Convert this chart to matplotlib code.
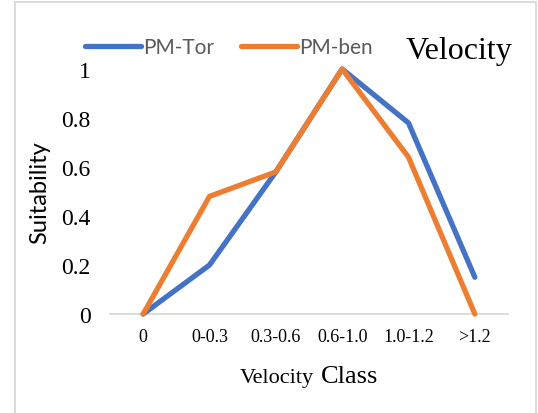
import matplotlib.pyplot as plt
from matplotlib.patches import Rectangle

kategorie = ['0', '0-0.3', '0.3-0.6', '0.6-1.0', '1.0-1.2', '>1.2']
pm_tor = [0, 0.2, 0.58, 1.0, 0.78, 0.15]
pm_ben = [0, 0.48, 0.58, 1.0, 0.64, 0.0]
y_ticks = [0, 0.2, 0.4, 0.6, 0.8, 1]
y_tick_labels = ['0', '0.2', '0.4', '0.6', '0.8', '1']

W, H = 538, 414
fig = plt.figure(figsize=(W / 100, H / 100), dpi=100)
ax = fig.add_axes([110 / W, 1 - 315 / H, 398 / W, 245 / H])

x = list(range(len(kategorie)))
l1, = ax.plot(x, pm_tor, color='#4472C4', lw=3.8, solid_capstyle='round',
              solid_joinstyle='round', clip_on=False, label='PM-Tor', zorder=3)
l2, = ax.plot(x, pm_ben, color='#ED7D31', lw=3.8, solid_capstyle='round',
              solid_joinstyle='round', clip_on=False, label='PM-ben', zorder=4)

ax.set_xlim(-0.5, len(kategorie) - 0.5)
ax.set_ylim(0, 1)
ax.set_xticks(x)
ax.set_xticklabels(kategorie, family='Liberation Serif', fontsize=13)
ax.set_yticks(y_ticks)
ax.set_yticklabels(y_tick_labels, family='Liberation Serif', fontsize=17)
ax.tick_params(axis='x', length=0, pad=10)
ax.tick_params(axis='y', length=0, pad=14)
for s in ['top', 'right', 'left']:
    ax.spines[s].set_visible(False)
ax.spines['bottom'].set_color('#D9D9D9')
ax.spines['bottom'].set_linewidth(1.3)
ax.spines['bottom'].set_zorder(1)

ax.set_ylabel('Suitability', family='Lato', fontsize=17, color='#000000', labelpad=8)

# os X w dwóch rozmiarach czcionki
fig.text(314 / W, 1 - 383 / H, 'Velocity', family='Liberation Serif', fontsize=16,
         ha='right', va='baseline')
fig.text(321 / W, 1 - 383 / H, 'Class', family='Liberation Serif', fontsize=19,
         ha='left', va='baseline')

fig.text(406 / W, 1 - 59 / H, 'Velocity', family='Liberation Serif', fontsize=23,
         ha='left', va='baseline')

leg = fig.legend(handles=[l1, l2], loc='center left', bbox_to_anchor=(66 / W, 1 - 48 / H),
                 ncol=2, frameon=False, handlelength=2.7, handletextpad=0.1,
                 columnspacing=1.3, prop={'family': 'Lato', 'size': 15})
for t in leg.get_texts():
    t.set_color('#595959')

fig.patches.append(Rectangle((15 / W, -0.1), (536 - 15) / W, 1.1 - 3 / H,
                             transform=fig.transFigure, fill=False,
                             edgecolor='#D9D9D9', lw=1.3))

fig.savefig('out.png', dpi=100)
